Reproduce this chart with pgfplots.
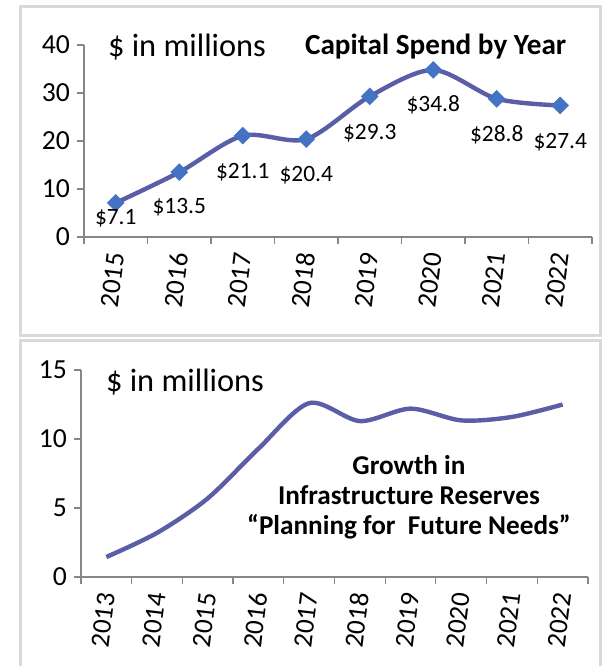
\documentclass[border=0pt]{standalone}
\usepackage{pgfplots}
\pgfplotsset{compat=1.18}
\usepackage{pgfplotstable}
\usepackage{fontspec}
\setmainfont{Carlito}
\definecolor{lineC}{RGB}{90,94,166}
\definecolor{markC}{RGB}{68,114,196}
\definecolor{axC}{RGB}{134,134,134}
\definecolor{frameC}{RGB}{217,217,217}

\pgfplotstableread{
x y dy
1 7.1 -7.5
2 13.5 -17.5
3 21.1 -18
4 20.4 -18
5 29.3 -18.5
6 34.8 -17.5
7 28.8 -18
8 27.4 -18.5
}\capital

\pgfplotstableread{
x y
1 1.45
2 3.2
3 5.7
4 9.3
5 12.6
6 11.3
7 12.2
8 11.35
9 11.6
10 12.5
}\reserves

\pgfplotsset{
  mystyle/.style={
    scale only axis,
    axis x line*=bottom,
    axis y line*=left,
    axis line style={axC, line width=0.6pt},
    tick style={axC, line width=0.6pt},
    tick align=outside,
    major tick length=3.5pt,
    yticklabel style={font=\fontsize{13.8}{15}\selectfont},
    xticklabel style={font=\fontsize{13.5}{15}\selectfont, rotate=83, anchor=east, xshift=-4.5pt, yshift=-1pt},
    /pgf/number format/assume math mode=true,
    clip=false,
  }
}

\begin{document}
\begin{tikzpicture}
\begin{scope}[x=0.5pt,y=-0.5pt]
\useasboundingbox (0,0) rectangle (602,666);
\fill[white] (0,0) rectangle (602,666);
\draw[frameC, line width=1.5pt] (20,6) rectangle (600,335);
\draw[frameC, line width=1.5pt] (20,340) rectangle (600,672);
\end{scope}

\begin{axis}[mystyle,
  at={(42pt,-118.5pt)}, anchor=south west,
  width=254pt, height=96pt,
  xmin=0.5, xmax=8.5, ymin=0, ymax=40,
  ytick={0,10,20,30,40},
  xtick={0.5,1.5,...,8.5}, xticklabels={},
  extra x ticks={1,2,3,4,5,6,7,8},
  extra x tick labels={2015,2016,2017,2018,2019,2020,2021,2022},
  extra x tick style={major tick length=0pt},
]
\addplot[lineC, line width=2.2pt, smooth, tension=0.5,
  mark=square*, mark size=3pt,
  mark options={rotate=45, fill=markC, draw=markC, line width=0.2pt},
  visualization depends on={\thisrow{dy} \as \dy},
  nodes near coords={\$\pgfmathprintnumber[fixed,fixed zerofill,precision=1]{\pgfplotspointmeta}},
  nodes near coords style={anchor=center, yshift=\dy pt, font=\fontsize{11.7}{13}\selectfont, text=black},
  point meta=y,
] table[x=x, y=y] {\capital};
\end{axis}

\begin{axis}[mystyle,
  at={(40.5pt,-288.5pt)}, anchor=south west,
  width=253.5pt, height=103.5pt,
  xmin=0.5, xmax=10.5, ymin=0, ymax=15,
  ytick={0,5,10,15},
  xtick={0.5,1.5,...,10.5}, xticklabels={},
  extra x ticks={1,2,3,4,5,6,7,8,9,10},
  extra x tick labels={2013,2014,2015,2016,2017,2018,2019,2020,2021,2022},
  extra x tick style={major tick length=0pt},
]
\addplot[lineC, line width=2.2pt, smooth, tension=0.5, no markers] table[x=x, y=y] {\reserves};
\end{axis}

\begin{scope}[x=0.5pt,y=-0.5pt]
\node[anchor=west, font=\fontsize{16.2}{18}\selectfont] at (101,47) {\$ in millions};
\node[anchor=west, font=\fontsize{14.6}{17}\selectfont\bfseries] at (298,47) {Capital Spend by Year};
\node[anchor=west, font=\fontsize{16.2}{18}\selectfont] at (99,382) {\$ in millions};
\node[align=center, font=\fontsize{13.6}{15}\selectfont\bfseries] at (409,497) {Growth in\\Infrastructure Reserves\\“Planning for\ \ Future Needs”};
\end{scope}
\end{tikzpicture}
\end{document}
